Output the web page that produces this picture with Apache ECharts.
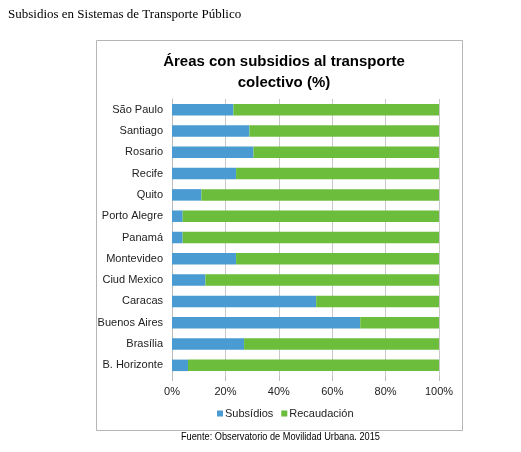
<!DOCTYPE html>
<html>
<head>
<meta charset="utf-8">
<script src="https://cdn.jsdelivr.net/npm/echarts@6/dist/echarts.min.js"></script>
<style>
html,body{margin:0;padding:0;background:#fff;}
#c{width:521px;height:452px;}
</style>
</head>
<body>
<div id="c"></div>
<script>
const categories = ['São Paulo','Santiago','Rosario','Recife','Quito','Porto Alegre','Panamá','Montevideo','Ciud Mexico','Caracas','Buenos Aires','Brasília','B. Horizonte'];
const subsidios = [23, 29, 30.5, 24, 11, 4, 4, 24, 12.5, 54, 70.5, 27, 6];
const recaudacion = [77, 71, 69.5, 76, 89, 96, 96, 76, 87.5, 46, 29.5, 73, 94];
const xTicks = [0, 20, 40, 60, 80, 100];

const SF = '"Liberation Sans", Arial, sans-serif';
const chart = echarts.init(document.getElementById('c'), null, {renderer:'canvas'});
chart.setOption({
  animation:false,
  backgroundColor:'#fff',
  title:{
    text:'Áreas con subsidios al transporte\ncolectivo (%)',
    left:279, top:46, textAlign:'center',
    textStyle:{fontFamily:SF, fontSize:15, fontWeight:'bold', color:'#000', lineHeight:21}
  },
  graphic:[
    {type:'rect', shape:{x:96.5,y:40.5,width:366,height:390}, style:{fill:null, stroke:'#b5b5b5', lineWidth:1}, z:-1},
    {type:'text', x:8, y:8, style:{text:'Subsidios en Sistemas de Transporte Público', font:'13px "Liberation Serif", "Times New Roman", serif', fill:'#000'}},
    {type:'text', x:181, y:432, scaleX:0.92, style:{text:'Fuente: Observatorio de Movilidad Urbana. 2015', font:'10px ' + SF, fill:'#000'}}
  ],
  legend:{
    top:403, left:212,
    itemWidth:6, itemHeight:6, itemGap:8,
    icon:'rect',
    textStyle:{fontFamily:SF, fontSize:11, color:'#222', padding:[0,0,0,-3]},
    data:['Subsídios','Recaudación']
  },
  grid:{left:172, right:82, top:99, bottom:76, containLabel:false},
  xAxis:{
    type:'value', min:0, max:100, interval:20,
    axisLine:{show:false},
    axisTick:{show:true, length:5, lineStyle:{color:'#bdbdbd'}},
    axisLabel:{formatter:'{value}%', fontFamily:SF, fontSize:11, color:'#222', margin:10},
    splitLine:{show:true, lineStyle:{color:'#c8c8c8', width:1}}
  },
  yAxis:{
    type:'category', inverse:true, data:categories,
    axisLine:{show:true, lineStyle:{color:'#bdbdbd'}},
    axisTick:{show:false},
    axisLabel:{fontFamily:SF, fontSize:11, color:'#222', margin:9}
  },
  series:[
    {name:'Subsídios', type:'bar', stack:'t', data:subsidios, barWidth:'54%', itemStyle:{color:'#4a9bd2'}},
    {name:'Recaudación', type:'bar', stack:'t', data:recaudacion, barWidth:'54%', itemStyle:{color:'#6cbd3b'}}
  ]
});
</script>
</body>
</html>
